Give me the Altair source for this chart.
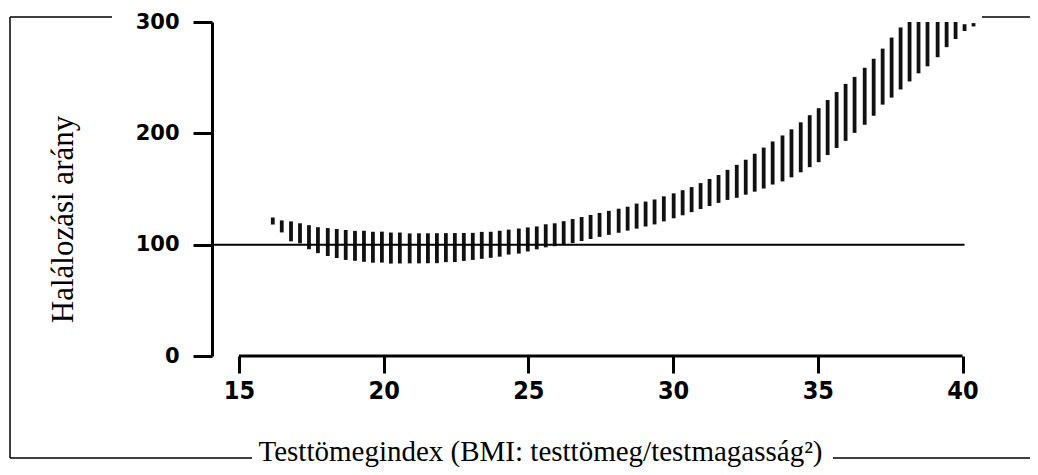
import altair as alt
import pandas as pd

# BMI position of each hatch dash, with the lower / upper edge of the band (mortality ratio)
bmi = [16.17, 16.48, 16.80, 17.11, 17.42, 17.73, 18.07, 18.38, 18.69, 19.01,
       19.32, 19.63, 19.94, 20.25, 20.56, 20.90, 21.22, 21.53, 21.84, 22.15,
       22.46, 22.77, 23.08, 23.39, 23.70, 24.01, 24.32, 24.67, 24.98, 25.29,
       25.60, 25.91, 26.22, 26.53, 26.84, 27.15, 27.46, 27.78, 28.12, 28.43,
       28.74, 29.05, 29.36, 29.68, 30.02, 30.33, 30.64, 30.95, 31.26, 31.57,
       31.88, 32.20, 32.51, 32.82, 33.13, 33.44, 33.78, 34.09, 34.41, 34.72,
       35.03, 35.34, 35.65, 35.96, 36.27, 36.62, 36.93, 37.24, 37.55, 37.86,
       38.17, 38.48, 38.79, 39.14, 39.45, 39.76, 40.07, 40.38]
upper = [124.4, 121.8, 120.9, 119.2, 117.5, 115.7, 114.9, 114.1, 113.2, 112.4,
         112.5, 111.6, 111.7, 110.9, 110.9, 110.1, 110.2, 110.2, 110.3, 110.4,
         110.4, 110.5, 110.6, 111.5, 111.6, 112.5, 113.5, 114.5, 115.5, 116.4,
         118.3, 119.2, 121.1, 123.0, 124.8, 126.7, 128.5, 130.4, 132.3, 134.1,
         136.9, 138.7, 140.6, 143.4, 146.1, 148.9, 151.7, 155.3, 159.0, 162.6,
         167.2, 171.7, 176.3, 181.7, 187.2, 192.7, 198.1, 203.6, 209.9, 216.3,
         222.6, 229.9, 237.1, 244.4, 250.7, 258.9, 267.0, 276.1, 286.0, 295.1,
         300.0, 300.0, 300.0, 300.0, 300.0, 300.0, 298.0, 299.0]
lower = [118.1, 111.0, 103.0, 101.2, 95.9, 92.4, 89.8, 88.0, 86.3, 85.5,
         84.6, 83.8, 83.9, 83.0, 83.1, 83.2, 83.2, 83.3, 83.4, 84.3,
         84.4, 85.4, 86.3, 87.3, 88.2, 89.2, 91.1, 92.0, 93.9, 95.8,
         97.6, 98.6, 99.5, 101.4, 103.3, 105.1, 107.0, 108.8, 110.7, 112.6,
         114.4, 116.3, 118.2, 120.9, 123.7, 126.4, 129.2, 132.0, 134.7, 137.5,
         140.2, 142.1, 144.9, 147.6, 150.4, 154.0, 156.8, 160.5, 165.0, 169.6,
         174.1, 180.5, 186.8, 193.2, 200.4, 207.7, 215.8, 225.8, 232.1, 239.4,
         246.6, 253.9, 260.2, 268.4, 277.4, 284.7, 291.9, 296.0]

x_ticks = [15, 20, 25, 30, 35, 40]
y_ticks = [0, 100, 200, 300]
ref_value = 100
ref_start, ref_end = 14.07, 40.07
x_axis_start, x_axis_end = 15, 40

x_title = "Testtömegindex (BMI: testtömeg/testmagasság²)"
y_title = "Halálozási arány"

W, H = 765, 334
x_scale = alt.Scale(domain=[14.07, 40.5], nice=False, zero=False)
y_scale = alt.Scale(domain=[0, 300], nice=False, zero=False)

x_axis = alt.Axis(values=x_ticks, domain=False, grid=False, ticks=True,
                  tickSize=17, tickWidth=3, tickColor="black",
                  labelFont="DejaVu Sans Condensed", labelFontWeight="bold",
                  labelFontSize=25, labelColor="black", labelPadding=5,
                  title=x_title, titleFont="Liberation Serif",
                  titleFontSize=29, titleFontWeight="normal", titleColor="black",
                  titleX=328, titleY=104, titleAlign="center",
                  titleBaseline="alphabetic")
y_axis = alt.Axis(values=y_ticks, domain=True, domainWidth=3, domainColor="black",
                  grid=False, tickSize=19, tickWidth=3, tickColor="black",
                  labelFont="DejaVu Sans", labelFontWeight="bold",
                  labelFontSize=21, labelColor="black", labelPadding=14,
                  title=y_title, titleFont="Liberation Serif",
                  titleFontSize=31, titleFontWeight="normal", titleColor="black",
                  titleAngle=270, titleX=-140, titleY=197, titleAlign="center",
                  titleBaseline="alphabetic")

band_df = pd.DataFrame({"bmi": bmi, "low": lower, "high": upper})

band = alt.Chart(band_df).mark_rule(strokeWidth=3.8, color="#111111", clip=False).encode(
    x=alt.X("bmi:Q", scale=x_scale, axis=x_axis),
    y=alt.Y("low:Q", scale=y_scale, axis=y_axis),
    y2="high:Q",
)

ref_df = pd.DataFrame({"x0": [ref_start], "x1": [ref_end], "v": [ref_value]})
ref = alt.Chart(ref_df).mark_rule(strokeWidth=2, color="black", clip=False).encode(
    x=alt.X("x0:Q", scale=x_scale, axis=x_axis),
    x2="x1:Q",
    y=alt.Y("v:Q", scale=y_scale, axis=y_axis),
)

xa_df = pd.DataFrame({"x0": [x_axis_start], "x1": [x_axis_end], "v": [0]})
xaxis_line = alt.Chart(xa_df).mark_rule(strokeWidth=3, color="black", clip=False).encode(
    x=alt.X("x0:Q", scale=x_scale, axis=x_axis),
    x2="x1:Q",
    y=alt.Y("v:Q", scale=y_scale, axis=y_axis),
)

# decorative frame around the figure (pixel positions relative to the plot area)
frame_df = pd.DataFrame({
    "px": [-202, -202, 770, -202, 621],
    "px2": [-202, -100, 818, 40, 818],
    "py": [-5, -5, -5, 436, 436],
    "py2": [436, -5, -5, 436, 436],
})
frame = alt.Chart(frame_df).mark_rule(strokeWidth=1.5, color="black", clip=False).encode(
    x=alt.X("px:Q", scale=None),
    x2="px2:Q",
    y=alt.Y("py:Q", scale=None),
    y2="py2:Q",
)

chart = alt.layer(band, ref, xaxis_line, frame).properties(
    width=W, height=H,
    autosize=alt.AutoSizeParams(type="none"),
    padding={"left": 204, "top": 14, "right": 53, "bottom": 111},
    background="white",
).configure_view(stroke=None)

chart.save("out.html", embed_options={"renderer": "svg", "actions": False})
